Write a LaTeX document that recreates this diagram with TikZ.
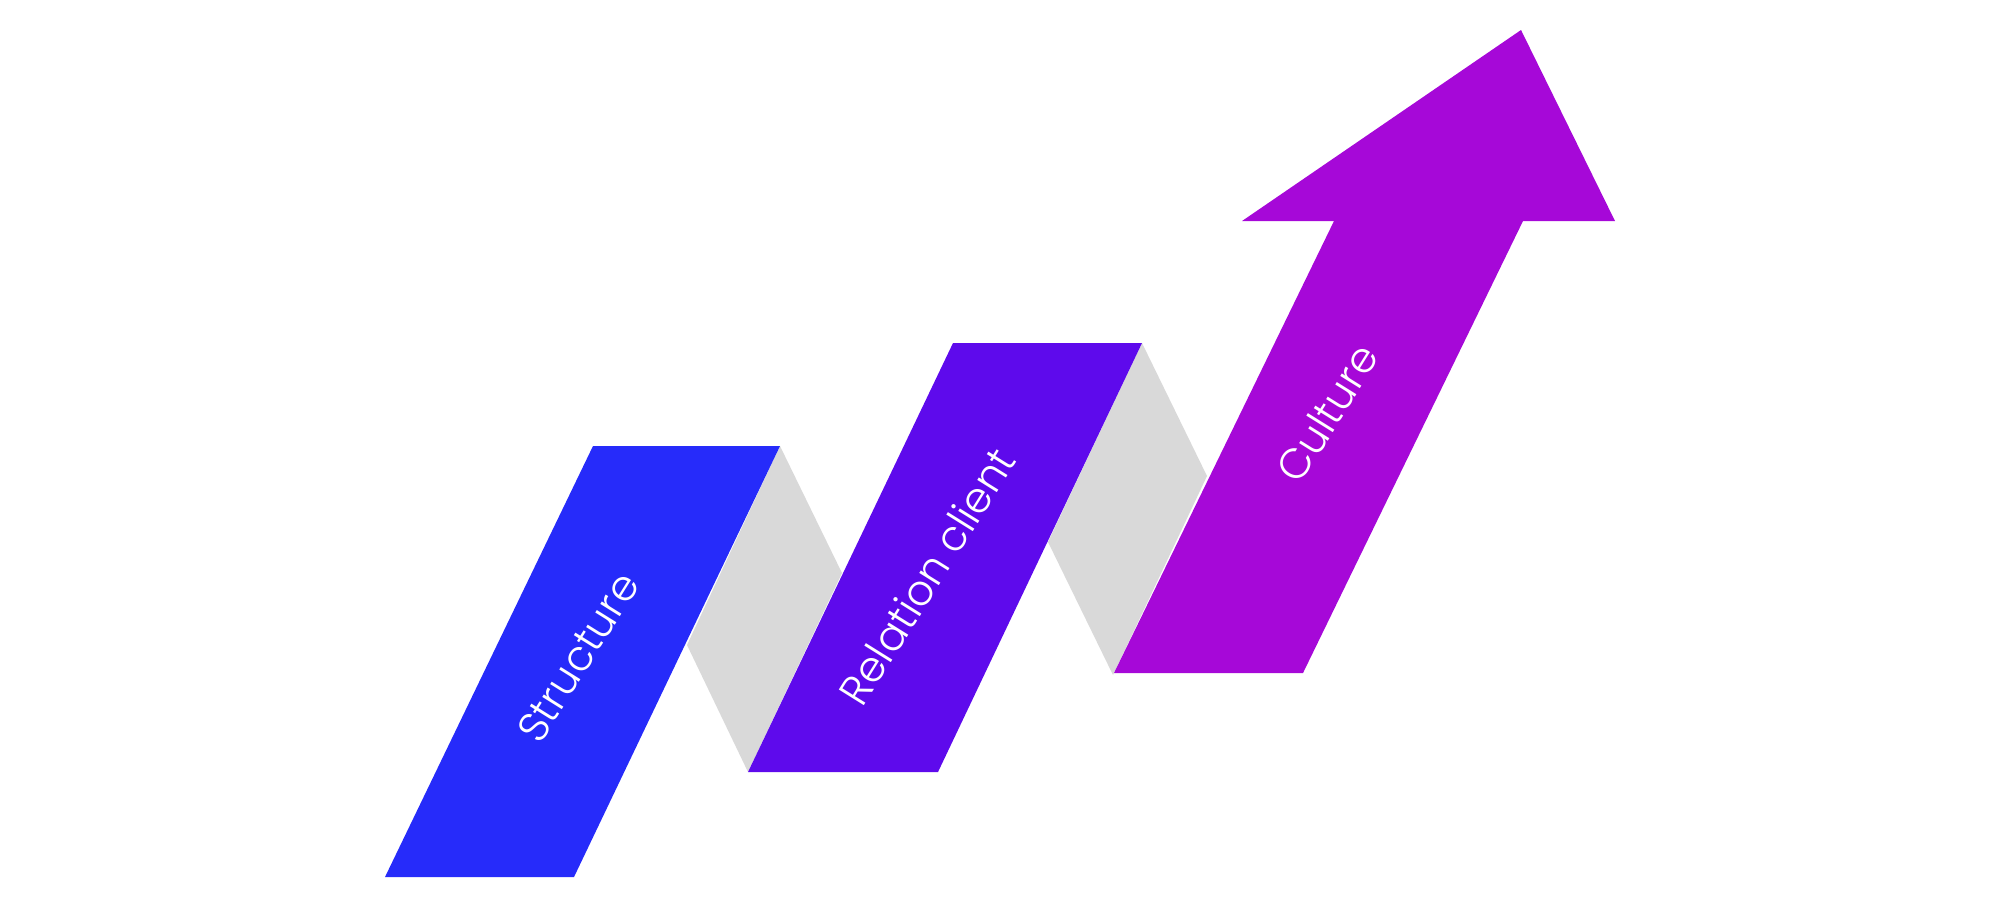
\documentclass[tikz,border=0pt]{standalone}
\usepackage{fontspec}
\newfontfamily\bandfont{Poppins Light}
\definecolor{bandblue}{RGB}{38,43,250}
\definecolor{bandviolet}{RGB}{94,10,236}
\definecolor{bandpurple}{RGB}{166,8,216}
\definecolor{foldgray}{RGB}{217,217,217}
\tikzset{
  band label/.style = {text = white, font = \bandfont\fontsize{12}{14}\selectfont, rotate = 58, inner sep = 0}
}
\begin{document}
\begin{tikzpicture}[x = 0.01cm, y = -0.01cm]
\useasboundingbox (0,0) rectangle (1997,920);
% folds behind the ribbon
\fill[foldgray] (780,446) -- (842,573) -- (748,772) -- (687,645) -- cycle;
\fill[foldgray] (1142,343) -- (1207,476) -- (1113,675) -- (1048,542) -- cycle;
% ribbon
\fill[bandblue] (385,877) -- (593,446) -- (780,446) -- (574,877) -- cycle;
\fill[bandviolet] (748,772) -- (953,343) -- (1142,343) -- (938,772) -- cycle;
\fill[bandpurple] (1114,673) -- (1334,221) -- (1242,221) -- (1521,30) -- (1615,221) -- (1523,221) -- (1303,673) -- cycle;
\node[band label] (structure) at (578,657) {Structure};
\node[band label] (relation) at (927,576) {Relation client};
\node[band label] (culture) at (1327,413) {Culture};
\end{tikzpicture}
\end{document}
